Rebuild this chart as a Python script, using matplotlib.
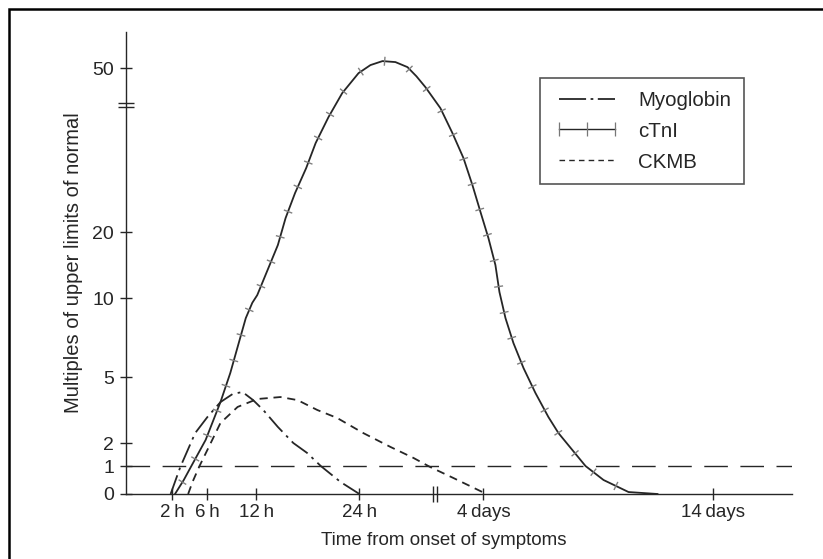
import numpy as np
import matplotlib
matplotlib.use('Agg')
import matplotlib.pyplot as plt
from matplotlib.lines import Line2D
from matplotlib.patches import Rectangle
from matplotlib.path import Path
from matplotlib.collections import LineCollection

plt.rcParams['font.family'] = ['Liberation Sans', 'DejaVu Sans']

# data: time in hours, level in multiples of the upper limit
myo_h = [1.8, 2.9, 4.6, 6.0, 7.6, 9.1, 10.3, 11.6, 12.8, 14.5, 16.3, 17.9, 19.5, 21.8, 24.0]
myo_v = [0.0, 0.96, 2.45, 3.18, 3.86, 4.23, 4.32, 3.95, 3.5, 2.73, 2.0, 1.57, 1.0, 0.43, 0.0]

ctni_h = [2.3, 3.3, 4.1, 5.8, 7.6, 8.8, 9.7, 10.7, 11.5, 12.1, 13.3, 14.5, 15.4, 16.5, 17.8,
          18.9, 20.4, 22.0, 23.9, 30.4, 37.4, 44.9, 51.9, 57.1, 62.3, 71.0, 78.0, 84.4,
          89.6, 94.3, 101.2, 108.5, 112.7, 119.0, 127.3, 137.8, 150.3, 163.8, 174.3,
          187.9, 202.5, 221.3, 247.4, 277.6]
ctni_v = [0.0, 0.5, 0.96, 2.14, 3.86, 5.25, 6.9, 8.73, 9.7, 10.45, 14.24, 18.03, 22.56,
          27.13, 31.71, 36.28, 41.04, 45.43, 49.08, 50.55, 51.28, 51.1, 50.18, 48.5, 46.52,
          42.68, 38.11, 33.54, 28.6, 23.66, 19.09, 15.0, 10.91, 8.73, 7.15, 5.57, 4.27,
          3.18, 2.45, 1.74, 1.0, 0.5, 0.07, 0.0]

ckmb_h = [3.8, 4.3, 5.1, 6.0, 7.6, 9.7, 12.1, 14.8, 16.8, 19.1, 21.4, 26.3, 42.0, 55.4,
          65.2, 78.6, 95.4, 96.0]
ckmb_v = [0.0, 0.43, 1.0, 1.7, 2.91, 3.64, 4.0, 4.09, 3.95, 3.5, 3.14, 2.45, 1.83, 1.35,
          0.96, 0.57, 0.07, 0.0]

xticks = [2, 6, 12, 24, 96, 336]
xlabels = ['2\u2009h', '6\u2009h', '12\u2009h', '24\u2009h', '4\u2009days', '14\u2009days']
yticks = [0, 1, 2, 5, 10, 20, 50]
ref_level = 1
x_break = 68      # hours, where the time axis is broken
y_break = 43.2    # where the value axis is broken

# the axes in the picture are stretched piecewise, so use a piecewise scale
xk_data = np.array([-4, 2, 6, 12, 24, 96, 336, 430])
xk_pos = np.array([119.5, 172, 207, 256, 359, 483, 713, 803])
yk_data = np.array([0, 1, 2, 5, 10, 20, 50, 60])
yk_pos = np.array([0, 28, 51, 117, 196, 262, 426, 480.7])


def xf(v):
    return np.interp(v, xk_data, xk_pos)


def xi(p):
    return np.interp(p, xk_pos, xk_data)


def yf(v):
    return np.interp(v, yk_data, yk_pos)


def yi(p):
    return np.interp(p, yk_pos, yk_data)


ink = '#262626'
fig = plt.figure(figsize=(8.23, 5.59), dpi=100)
ax = fig.add_axes([126 / 823, 65 / 559, 666 / 823, 462 / 559])
ax.set_xscale('function', functions=(xf, xi))
ax.set_yscale('function', functions=(yf, yi))
ax.set_xlim(-3.3, 418)
ax.set_ylim(0, 56.6)

ax.axhline(ref_level, color=ink, lw=1.0, linestyle=(0, (17, 9)))
ax.plot(myo_h, myo_v, color=ink, lw=1.3, linestyle=(0, (11, 3, 1.5, 3)))
ax.plot(ctni_h, ctni_v, color=ink, lw=1.3)
ax.plot(ckmb_h, ckmb_v, color=ink, lw=1.3, linestyle=(0, (4.5, 3.2)))

# little cross strokes along the cTnI curve, spaced evenly on screen
pts = ax.transData.transform(np.column_stack([ctni_h, ctni_v]))
seg = np.diff(pts, axis=0)
seglen = np.hypot(seg[:, 0], seg[:, 1])
s = np.concatenate([[0], np.cumsum(seglen)])
sm = np.arange(14, s[-1] - 20, 26.5)
idx = np.clip(np.searchsorted(s, sm) - 1, 0, len(seg) - 1)
mx = np.interp(sm, s, pts[:, 0])
my = np.interp(sm, s, pts[:, 1])
tx = seg[idx, 0] / seglen[idx]
ty = seg[idx, 1] / seglen[idx]
half = 4.5
a = ax.transData.inverted().transform(np.column_stack([mx - ty * half, my + tx * half]))
b = ax.transData.inverted().transform(np.column_stack([mx + ty * half, my - tx * half]))
marks = LineCollection(np.stack([a, b], axis=1), colors='#808080', linewidths=1.0)
ax.add_collection(marks)

for side in ['top', 'right']:
    ax.spines[side].set_visible(False)
for side in ['left', 'bottom']:
    ax.spines[side].set_color(ink)
    ax.spines[side].set_linewidth(1.0)

ax.set_xticks(xticks)
ax.set_xticklabels(xlabels)
ax.set_yticks(yticks)
ax.set_yticklabels([str(t) for t in yticks])
ax.xaxis.set_minor_locator(matplotlib.ticker.NullLocator())
ax.yaxis.set_minor_locator(matplotlib.ticker.NullLocator())
ax.tick_params(axis='x', direction='inout', length=9, width=1.0, color=ink,
               labelsize=13.5, labelcolor=ink, pad=3)
ax.tick_params(axis='y', direction='inout', length=9, width=1.0, color=ink,
               labelsize=14, labelcolor=ink, pad=4)

# axis break marks
brk_y = Path([(-1, 0.25), (1, 0.25), (-1, -0.25), (1, -0.25)],
             [Path.MOVETO, Path.LINETO, Path.MOVETO, Path.LINETO])
brk_x = Path([(0.25, -1), (0.25, 1), (-0.25, -1), (-0.25, 1)],
             [Path.MOVETO, Path.LINETO, Path.MOVETO, Path.LINETO])
ax.plot([0], [y_break], marker=brk_y, markersize=11, color=ink, mew=1.0,
        transform=ax.get_yaxis_transform(), clip_on=False)
ax.plot([x_break], [0], marker=brk_x, markersize=12, color=ink, mew=1.0,
        transform=ax.get_xaxis_transform(), clip_on=False)

ax.set_ylabel('Multiples of upper limits of normal', fontsize=14.5, color=ink, labelpad=7)
ax.set_xlabel('Time from onset of symptoms', fontsize=13.5, color=ink)
ax.xaxis.set_label_coords((444 - 126) / 666, -0.082)

handles = [
    Line2D([], [], color=ink, lw=1.3, linestyle=(0, (15, 2.5, 1.5, 2.5))),
    Line2D([], [], color=ink, lw=1.0, marker='|', markersize=10,
           markeredgecolor='#777777', mew=0.9),
    Line2D([], [], color=ink, lw=1.0, linestyle=(0, (4, 3))),
]
leg = ax.legend(handles, ['Myoglobin', 'cTnI', 'CKMB'], loc='upper left',
                bbox_to_anchor=((540 - 126) / 666, (494 - 78) / 462), borderaxespad=0,
                fontsize=14.8, frameon=True, fancybox=False, framealpha=1,
                edgecolor='#555555', handlelength=3.35, handletextpad=0.8,
                labelspacing=0.58, borderpad=0.62, numpoints=3)
leg.get_frame().set_linewidth(1.2)
for t in leg.get_texts():
    t.set_color(ink)

# frame around the whole figure (only its top and left edges are in view)
fig.add_artist(Rectangle((9 / 823, -0.5), 2, 1.5 - 9 / 559, fill=False,
                         edgecolor='black', lw=1.8, transform=fig.transFigure))

plt.savefig('out.png', dpi=100)
